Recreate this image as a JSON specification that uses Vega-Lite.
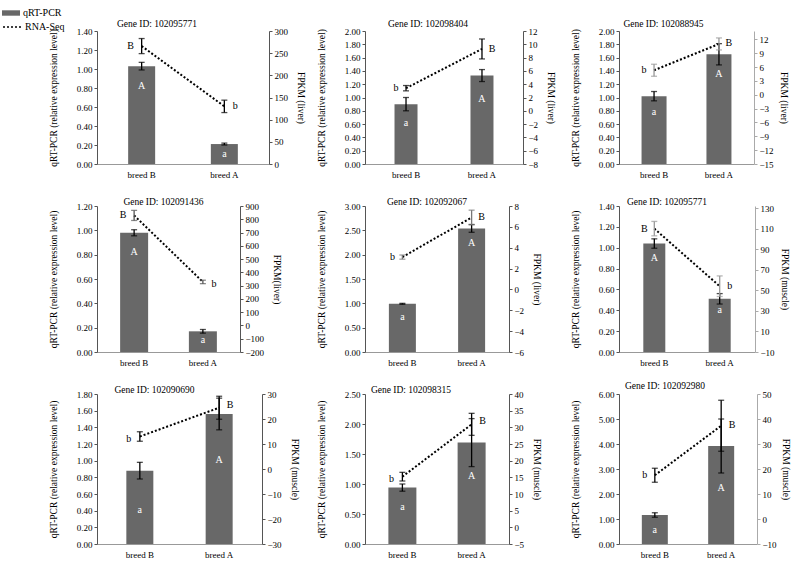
{
  "$schema": "https://vega.github.io/schema/vega-lite/v6.json",
  "padding": {"left": 2, "top": 4, "right": 0, "bottom": 0},
  "datasets": {
    "d": [
      {"panel": 1, "breed": "breed B", "qpcr": 1.03, "qpcr_err": 0.04, "fpkm": 266, "fpkm_err": 17, "pcr_letter": "A", "seq_letter": "B"},
      {"panel": 1, "breed": "breed A", "qpcr": 0.21, "qpcr_err": 0.01, "fpkm": 130, "fpkm_err": 14, "pcr_letter": "a", "seq_letter": "b"},
      {"panel": 2, "breed": "breed B", "qpcr": 0.90, "qpcr_err": 0.10, "fpkm": 3.4, "fpkm_err": 0.4, "pcr_letter": "a", "seq_letter": "b"},
      {"panel": 2, "breed": "breed A", "qpcr": 1.33, "qpcr_err": 0.09, "fpkm": 9.3, "fpkm_err": 1.5, "pcr_letter": "A", "seq_letter": "B"},
      {"panel": 3, "breed": "breed B", "qpcr": 1.02, "qpcr_err": 0.07, "fpkm": 5.3, "fpkm_err": 1.3, "pcr_letter": "a", "seq_letter": "b"},
      {"panel": 3, "breed": "breed A", "qpcr": 1.65, "qpcr_err": 0.16, "fpkm": 11.0, "fpkm_err": 1.3, "pcr_letter": "A", "seq_letter": "B"},
      {"panel": 4, "breed": "breed B", "qpcr": 0.98, "qpcr_err": 0.025, "fpkm": 829, "fpkm_err": 38, "pcr_letter": "A", "seq_letter": "B"},
      {"panel": 4, "breed": "breed A", "qpcr": 0.17, "qpcr_err": 0.015, "fpkm": 328, "fpkm_err": 13, "pcr_letter": "a", "seq_letter": "b"},
      {"panel": 5, "breed": "breed B", "qpcr": 0.99, "qpcr_err": 0.01, "fpkm": 3.1, "fpkm_err": 0.2, "pcr_letter": "a", "seq_letter": "b"},
      {"panel": 5, "breed": "breed A", "qpcr": 2.54, "qpcr_err": 0.08, "fpkm": 6.9, "fpkm_err": 0.7, "pcr_letter": "A", "seq_letter": "B"},
      {"panel": 6, "breed": "breed B", "qpcr": 1.04, "qpcr_err": 0.045, "fpkm": 110, "fpkm_err": 7, "pcr_letter": "A", "seq_letter": "B"},
      {"panel": 6, "breed": "breed A", "qpcr": 0.51, "qpcr_err": 0.05, "fpkm": 54, "fpkm_err": 10, "pcr_letter": "a", "seq_letter": "b"},
      {"panel": 7, "breed": "breed B", "qpcr": 0.88, "qpcr_err": 0.10, "fpkm": 13.0, "fpkm_err": 1.9, "pcr_letter": "a", "seq_letter": "b"},
      {"panel": 7, "breed": "breed A", "qpcr": 1.56, "qpcr_err": 0.19, "fpkm": 24.5, "fpkm_err": 4.6, "pcr_letter": "A", "seq_letter": "B"},
      {"panel": 8, "breed": "breed B", "qpcr": 0.94, "qpcr_err": 0.06, "fpkm": 15.2, "fpkm_err": 1.3, "pcr_letter": "a", "seq_letter": "b"},
      {"panel": 8, "breed": "breed A", "qpcr": 1.69, "qpcr_err": 0.40, "fpkm": 30.9, "fpkm_err": 3.3, "pcr_letter": "A", "seq_letter": "B"},
      {"panel": 9, "breed": "breed B", "qpcr": 1.16, "qpcr_err": 0.09, "fpkm": 17.5, "fpkm_err": 2.8, "pcr_letter": "a", "seq_letter": "b"},
      {"panel": 9, "breed": "breed A", "qpcr": 3.92, "qpcr_err": 1.08, "fpkm": 37.3, "fpkm_err": 10.2, "pcr_letter": "A", "seq_letter": "B"}
    ]
  },
  "columns": 3,
  "bounds": "flush",
  "spacing": {"row": 42, "column": 96},
  "concat": [
    {
      "width": 172, "height": 133,
      "data": {"name": "d"},
      "transform": [{"filter": "datum.panel == 1"}],
      "title": {"text": "Gene ID: 102095771", "dx": -26, "dy": 4},
      "encoding": {"x": {"field": "breed", "type": "nominal", "sort": ["breed B", "breed A"], "scale": {"paddingInner": 0, "paddingOuter": 0.04}, "axis": {"title": null}}},
      "layer": [
        {
          "encoding": {"y": {"field": "qpcr", "type": "quantitative", "title": "qRT-PCR (relative expression level)", "scale": {"domain": [0, 1.4]}, "axis": {"values": [0, 0.2, 0.4, 0.6, 0.8, 1, 1.2, 1.4], "format": ".2f"}}},
          "layer": [
            {"mark": {"type": "bar", "width": 27}, "encoding": {"color": {"datum": "qRT-PCR", "scale": {"range": ["#686868"]}, "legend": {"title": null, "orient": "none", "legendX": -95, "legendY": -27, "symbolType": "M-1,-0.3H1V0.3H-1Z", "symbolSize": 324, "symbolStrokeWidth": 0, "labelFontSize": 10, "labelOffset": 3, "labelColor": "black"}}}},
            {"mark": {"type": "errorbar", "ticks": true, "size": 6, "thickness": 1.3, "color": "black"}, "encoding": {"yError": {"field": "qpcr_err"}}},
            {"transform": [{"filter": "datum.breed == 'breed B'"}], "mark": {"type": "text", "color": "white", "fontSize": 10, "dy": 20}, "encoding": {"text": {"field": "pcr_letter"}}},
            {"transform": [{"filter": "datum.breed == 'breed A'"}], "mark": {"type": "text", "color": "white", "fontSize": 10, "dy": 10}, "encoding": {"text": {"field": "pcr_letter"}}}
          ]
        },
        {
          "encoding": {"y": {"field": "fpkm", "type": "quantitative", "title": "FPKM (liver)", "scale": {"domain": [0, 300]}, "axis": {"orient": "right", "values": [0, 50, 100, 150, 200, 250, 300], "format": "d"}}},
          "layer": [
            {"mark": {"type": "line", "color": "black", "strokeWidth": 2}, "encoding": {"strokeDash": {"datum": "RNA-Seq", "scale": {"range": [[2, 2]]}, "legend": {"title": null, "orient": "none", "legendX": -95, "legendY": -14, "symbolType": "stroke", "symbolSize": 324, "symbolStrokeColor": "black", "symbolStrokeWidth": 1.3, "labelFontSize": 10, "labelOffset": 3, "labelColor": "black"}}}},
            {"mark": {"type": "errorbar", "ticks": true, "size": 6, "thickness": 1.3, "color": "black"}, "encoding": {"yError": {"field": "fpkm_err"}}},
            {"transform": [{"filter": "datum.breed == 'breed B'"}], "mark": {"type": "text", "color": "black", "fontSize": 10, "dx": -11}, "encoding": {"text": {"field": "seq_letter"}}},
            {"transform": [{"filter": "datum.breed == 'breed A'"}], "mark": {"type": "text", "color": "black", "fontSize": 10, "dx": 11}, "encoding": {"text": {"field": "seq_letter"}}}
          ]
        }
      ],
      "resolve": {"scale": {"y": "independent"}}
    },
    {
      "width": 158, "height": 133,
      "data": {"name": "d"},
      "transform": [{"filter": "datum.panel == 2"}],
      "title": {"text": "Gene ID: 102098404", "dx": -16, "dy": 4},
      "encoding": {"x": {"field": "breed", "type": "nominal", "sort": ["breed B", "breed A"], "scale": {"paddingInner": 0, "paddingOuter": 0.04}, "axis": {"title": null}}},
      "layer": [
        {
          "encoding": {"y": {"field": "qpcr", "type": "quantitative", "title": "qRT-PCR (relative expression level)", "scale": {"domain": [0, 2]}, "axis": {"values": [0, 0.2, 0.4, 0.6, 0.8, 1, 1.2, 1.4, 1.6, 1.8, 2], "format": ".2f"}}},
          "layer": [
            {"mark": {"type": "bar", "width": 23, "color": "#686868"}},
            {"mark": {"type": "errorbar", "ticks": true, "size": 6, "thickness": 1.3, "color": "black"}, "encoding": {"yError": {"field": "qpcr_err"}}},
            {"transform": [{"filter": "datum.breed == 'breed B'"}], "mark": {"type": "text", "color": "white", "fontSize": 10, "dy": 19}, "encoding": {"text": {"field": "pcr_letter"}}},
            {"transform": [{"filter": "datum.breed == 'breed A'"}], "mark": {"type": "text", "color": "white", "fontSize": 10, "dy": 23}, "encoding": {"text": {"field": "pcr_letter"}}}
          ]
        },
        {
          "encoding": {"y": {"field": "fpkm", "type": "quantitative", "title": "FPKM (liver)", "scale": {"domain": [-8, 12]}, "axis": {"orient": "right", "values": [-8, -6, -4, -2, 0, 2, 4, 6, 8, 10, 12], "format": "d"}}},
          "layer": [
            {"mark": {"type": "line", "color": "black", "strokeWidth": 2, "strokeDash": [2, 2]}},
            {"mark": {"type": "errorbar", "ticks": true, "size": 6, "thickness": 1.3, "color": "black"}, "encoding": {"yError": {"field": "fpkm_err"}}},
            {"transform": [{"filter": "datum.breed == 'breed B'"}], "mark": {"type": "text", "color": "black", "fontSize": 10, "dx": -10}, "encoding": {"text": {"field": "seq_letter"}}},
            {"transform": [{"filter": "datum.breed == 'breed A'"}], "mark": {"type": "text", "color": "black", "fontSize": 10, "dx": 10}, "encoding": {"text": {"field": "seq_letter"}}}
          ]
        }
      ],
      "resolve": {"scale": {"y": "independent"}}
    },
    {
      "width": 135, "height": 133,
      "data": {"name": "d"},
      "transform": [{"filter": "datum.panel == 3"}],
      "title": {"text": "Gene ID: 102088945", "dx": -23, "dy": 4},
      "encoding": {"x": {"field": "breed", "type": "nominal", "sort": ["breed B", "breed A"], "scale": {"paddingInner": 0, "paddingOuter": 0.04}, "axis": {"title": null}}},
      "layer": [
        {
          "encoding": {"y": {"field": "qpcr", "type": "quantitative", "title": "qRT-PCR (relative expression level)", "scale": {"domain": [0, 2]}, "axis": {"values": [0, 0.2, 0.4, 0.6, 0.8, 1, 1.2, 1.4, 1.6, 1.8, 2], "format": ".2f"}}},
          "layer": [
            {"mark": {"type": "bar", "width": 25, "color": "#686868"}},
            {"mark": {"type": "errorbar", "ticks": true, "size": 6, "thickness": 1.3, "color": "black"}, "encoding": {"yError": {"field": "qpcr_err"}}},
            {"transform": [{"filter": "datum.breed == 'breed B'"}], "mark": {"type": "text", "color": "white", "fontSize": 10, "dy": 16}, "encoding": {"text": {"field": "pcr_letter"}}},
            {"transform": [{"filter": "datum.breed == 'breed A'"}], "mark": {"type": "text", "color": "white", "fontSize": 10, "dy": 20}, "encoding": {"text": {"field": "pcr_letter"}}}
          ]
        },
        {
          "encoding": {"y": {"field": "fpkm", "type": "quantitative", "title": "FPKM (liver)", "scale": {"domain": [-15, 13.8]}, "axis": {"orient": "right", "values": [-15, -12, -9, -6, -3, 0, 3, 6, 9, 12], "format": "d", "domainColor": "#aaaaaa", "tickColor": "#aaaaaa", "titlePadding": 5}}},
          "layer": [
            {"mark": {"type": "line", "color": "black", "strokeWidth": 2, "strokeDash": [2, 2]}},
            {"mark": {"type": "errorbar", "ticks": true, "size": 6, "thickness": 1.3, "color": "#999999"}, "encoding": {"yError": {"field": "fpkm_err"}}},
            {"transform": [{"filter": "datum.breed == 'breed B'"}], "mark": {"type": "text", "color": "black", "fontSize": 10, "dx": -10}, "encoding": {"text": {"field": "seq_letter"}}},
            {"transform": [{"filter": "datum.breed == 'breed A'"}], "mark": {"type": "text", "color": "black", "fontSize": 10, "dx": 10, "dy": -1}, "encoding": {"text": {"field": "seq_letter"}}}
          ]
        }
      ],
      "resolve": {"scale": {"y": "independent"}}
    },
    {
      "width": 143, "height": 146,
      "data": {"name": "d"},
      "transform": [{"filter": "datum.panel == 4"}],
      "title": {"text": "Gene ID: 102091436", "dx": -5, "dy": 7},
      "encoding": {"x": {"field": "breed", "type": "nominal", "sort": ["breed B", "breed A"], "scale": {"paddingInner": 0, "paddingOuter": 0.04}, "axis": {"title": null}}},
      "layer": [
        {
          "encoding": {"y": {"field": "qpcr", "type": "quantitative", "title": "qRT-PCR (relative expression level)", "scale": {"domain": [0, 1.2]}, "axis": {"values": [0, 0.2, 0.4, 0.6, 0.8, 1, 1.2], "format": ".2f"}}},
          "layer": [
            {"mark": {"type": "bar", "width": 28, "color": "#686868"}},
            {"mark": {"type": "errorbar", "ticks": true, "size": 6, "thickness": 1.3, "color": "black"}, "encoding": {"yError": {"field": "qpcr_err"}}},
            {"transform": [{"filter": "datum.breed == 'breed B'"}], "mark": {"type": "text", "color": "white", "fontSize": 10, "dy": 19}, "encoding": {"text": {"field": "pcr_letter"}}},
            {"transform": [{"filter": "datum.breed == 'breed A'"}], "mark": {"type": "text", "color": "white", "fontSize": 10, "dy": 9}, "encoding": {"text": {"field": "pcr_letter"}}}
          ]
        },
        {
          "encoding": {"y": {"field": "fpkm", "type": "quantitative", "title": "FPKM(liver)", "scale": {"domain": [-200, 900]}, "axis": {"orient": "right", "values": [-200, -100, 0, 100, 200, 300, 400, 500, 600, 700, 800, 900], "format": "d"}}},
          "layer": [
            {"mark": {"type": "line", "color": "black", "strokeWidth": 2, "strokeDash": [2, 2]}},
            {"mark": {"type": "errorbar", "ticks": true, "size": 6, "thickness": 1.3, "color": "#555555"}, "encoding": {"yError": {"field": "fpkm_err"}}},
            {"transform": [{"filter": "datum.breed == 'breed B'"}], "mark": {"type": "text", "color": "black", "fontSize": 10, "dx": -11}, "encoding": {"text": {"field": "seq_letter"}}},
            {"transform": [{"filter": "datum.breed == 'breed A'"}], "mark": {"type": "text", "color": "black", "fontSize": 10, "dx": 11, "dy": 2}, "encoding": {"text": {"field": "seq_letter"}}}
          ]
        }
      ],
      "resolve": {"scale": {"y": "independent"}}
    },
    {
      "width": 144, "height": 146,
      "data": {"name": "d"},
      "transform": [{"filter": "datum.panel == 5"}],
      "title": {"text": "Gene ID: 102092067", "dx": -10, "dy": 7},
      "encoding": {"x": {"field": "breed", "type": "nominal", "sort": ["breed B", "breed A"], "scale": {"paddingInner": 0, "paddingOuter": 0.04}, "axis": {"title": null}}},
      "layer": [
        {
          "encoding": {"y": {"field": "qpcr", "type": "quantitative", "title": "qRT-PCR (relative expression level)", "scale": {"domain": [0, 3]}, "axis": {"values": [0, 0.5, 1, 1.5, 2, 2.5, 3], "format": ".2f"}}},
          "layer": [
            {"mark": {"type": "bar", "width": 27, "color": "#686868"}},
            {"mark": {"type": "errorbar", "ticks": true, "size": 6, "thickness": 1.3, "color": "black"}, "encoding": {"yError": {"field": "qpcr_err"}}},
            {"transform": [{"filter": "datum.breed == 'breed B'"}], "mark": {"type": "text", "color": "white", "fontSize": 10, "dy": 13}, "encoding": {"text": {"field": "pcr_letter"}}},
            {"transform": [{"filter": "datum.breed == 'breed A'"}], "mark": {"type": "text", "color": "white", "fontSize": 10, "dy": 15}, "encoding": {"text": {"field": "pcr_letter"}}}
          ]
        },
        {
          "encoding": {"y": {"field": "fpkm", "type": "quantitative", "title": "FPKM (liver)", "scale": {"domain": [-6, 8]}, "axis": {"orient": "right", "values": [-6, -4, -2, 0, 2, 4, 6, 8], "format": "d"}}},
          "layer": [
            {"mark": {"type": "line", "color": "black", "strokeWidth": 2, "strokeDash": [2, 2]}},
            {"mark": {"type": "errorbar", "ticks": true, "size": 6, "thickness": 1.3, "color": "#777777"}, "encoding": {"yError": {"field": "fpkm_err"}}},
            {"transform": [{"filter": "datum.breed == 'breed B'"}], "mark": {"type": "text", "color": "black", "fontSize": 10, "dx": -10}, "encoding": {"text": {"field": "seq_letter"}}},
            {"transform": [{"filter": "datum.breed == 'breed A'"}], "mark": {"type": "text", "color": "black", "fontSize": 10, "dx": 10}, "encoding": {"text": {"field": "seq_letter"}}}
          ]
        }
      ],
      "resolve": {"scale": {"y": "independent"}}
    },
    {
      "width": 136, "height": 146,
      "data": {"name": "d"},
      "transform": [{"filter": "datum.panel == 6"}],
      "title": {"text": "Gene ID: 102095771", "dx": -20, "dy": 7},
      "encoding": {"x": {"field": "breed", "type": "nominal", "sort": ["breed B", "breed A"], "scale": {"paddingInner": 0, "paddingOuter": 0.04}, "axis": {"title": null}}},
      "layer": [
        {
          "encoding": {"y": {"field": "qpcr", "type": "quantitative", "title": "qRT-PCR (relative expression level)", "scale": {"domain": [0, 1.4]}, "axis": {"values": [0, 0.2, 0.4, 0.6, 0.8, 1, 1.2, 1.4], "format": ".2f"}}},
          "layer": [
            {"mark": {"type": "bar", "width": 22, "color": "#686868"}},
            {"mark": {"type": "errorbar", "ticks": true, "size": 6, "thickness": 1.3, "color": "black"}, "encoding": {"yError": {"field": "qpcr_err"}}},
            {"transform": [{"filter": "datum.breed == 'breed B'"}], "mark": {"type": "text", "color": "white", "fontSize": 10, "dy": 14}, "encoding": {"text": {"field": "pcr_letter"}}},
            {"transform": [{"filter": "datum.breed == 'breed A'"}], "mark": {"type": "text", "color": "white", "fontSize": 10, "dy": 11}, "encoding": {"text": {"field": "pcr_letter"}}}
          ]
        },
        {
          "encoding": {"y": {"field": "fpkm", "type": "quantitative", "title": "FPKM (muscle)", "scale": {"domain": [-10, 132]}, "axis": {"orient": "right", "values": [-10, 10, 30, 50, 70, 90, 110, 130], "format": "d", "domainColor": "#aaaaaa", "tickColor": "#aaaaaa", "titlePadding": 5}}},
          "layer": [
            {"mark": {"type": "line", "color": "black", "strokeWidth": 2, "strokeDash": [2, 2]}},
            {"mark": {"type": "errorbar", "ticks": true, "size": 6, "thickness": 1.3, "color": "#999999"}, "encoding": {"yError": {"field": "fpkm_err"}}},
            {"transform": [{"filter": "datum.breed == 'breed B'"}], "mark": {"type": "text", "color": "black", "fontSize": 10, "dx": -10}, "encoding": {"text": {"field": "seq_letter"}}},
            {"transform": [{"filter": "datum.breed == 'breed A'"}], "mark": {"type": "text", "color": "black", "fontSize": 10, "dx": 10}, "encoding": {"text": {"field": "seq_letter"}}}
          ]
        }
      ],
      "resolve": {"scale": {"y": "independent"}}
    },
    {
      "width": 165, "height": 150,
      "data": {"name": "d"},
      "transform": [{"filter": "datum.panel == 7"}],
      "title": {"text": "Gene ID: 102090690", "dx": -25, "dy": 7},
      "encoding": {"x": {"field": "breed", "type": "nominal", "sort": ["breed B", "breed A"], "scale": {"paddingInner": 0, "paddingOuter": 0.04}, "axis": {"title": null}}},
      "layer": [
        {
          "encoding": {"y": {"field": "qpcr", "type": "quantitative", "title": "qRT-PCR (relative expression level)", "scale": {"domain": [0, 1.8]}, "axis": {"values": [0, 0.2, 0.4, 0.6, 0.8, 1, 1.2, 1.4, 1.6, 1.8], "format": ".2f"}}},
          "layer": [
            {"mark": {"type": "bar", "width": 27, "color": "#686868"}},
            {"mark": {"type": "errorbar", "ticks": true, "size": 6, "thickness": 1.3, "color": "black"}, "encoding": {"yError": {"field": "qpcr_err"}}},
            {"transform": [{"filter": "datum.breed == 'breed B'"}], "mark": {"type": "text", "color": "white", "fontSize": 10, "dy": 39}, "encoding": {"text": {"field": "pcr_letter"}}},
            {"transform": [{"filter": "datum.breed == 'breed A'"}], "mark": {"type": "text", "color": "white", "fontSize": 10, "dy": 46}, "encoding": {"text": {"field": "pcr_letter"}}}
          ]
        },
        {
          "encoding": {"y": {"field": "fpkm", "type": "quantitative", "title": "FPKM (muscle)", "scale": {"domain": [-30, 30]}, "axis": {"orient": "right", "values": [-30, -20, -10, 0, 10, 20, 30], "format": "d"}}},
          "layer": [
            {"mark": {"type": "line", "color": "black", "strokeWidth": 2, "strokeDash": [2, 2]}},
            {"mark": {"type": "errorbar", "ticks": true, "size": 6, "thickness": 1.3, "color": "black"}, "encoding": {"yError": {"field": "fpkm_err"}}},
            {"transform": [{"filter": "datum.breed == 'breed B'"}], "mark": {"type": "text", "color": "black", "fontSize": 10, "dx": -11, "dy": 2}, "encoding": {"text": {"field": "seq_letter"}}},
            {"transform": [{"filter": "datum.breed == 'breed A'"}], "mark": {"type": "text", "color": "black", "fontSize": 10, "dx": 11, "dy": -3}, "encoding": {"text": {"field": "seq_letter"}}}
          ]
        }
      ],
      "resolve": {"scale": {"y": "independent"}}
    },
    {
      "width": 144, "height": 150,
      "data": {"name": "d"},
      "transform": [{"filter": "datum.panel == 8"}],
      "title": {"text": "Gene ID: 102098315", "dx": -26, "dy": 7},
      "encoding": {"x": {"field": "breed", "type": "nominal", "sort": ["breed B", "breed A"], "scale": {"paddingInner": 0, "paddingOuter": 0.04}, "axis": {"title": null}}},
      "layer": [
        {
          "encoding": {"y": {"field": "qpcr", "type": "quantitative", "title": "qRT-PCR (relative expression level)", "scale": {"domain": [0, 2.5]}, "axis": {"values": [0, 0.5, 1, 1.5, 2, 2.5], "format": ".2f"}}},
          "layer": [
            {"mark": {"type": "bar", "width": 28, "color": "#686868"}},
            {"mark": {"type": "errorbar", "ticks": true, "size": 6, "thickness": 1.3, "color": "black"}, "encoding": {"yError": {"field": "qpcr_err"}}},
            {"transform": [{"filter": "datum.breed == 'breed B'"}], "mark": {"type": "text", "color": "white", "fontSize": 10, "dy": 19}, "encoding": {"text": {"field": "pcr_letter"}}},
            {"transform": [{"filter": "datum.breed == 'breed A'"}], "mark": {"type": "text", "color": "white", "fontSize": 10, "dy": 33}, "encoding": {"text": {"field": "pcr_letter"}}}
          ]
        },
        {
          "encoding": {"y": {"field": "fpkm", "type": "quantitative", "title": "FPKM (muscle)", "scale": {"domain": [-5, 40]}, "axis": {"orient": "right", "values": [-5, 0, 5, 10, 15, 20, 25, 30, 35, 40], "format": "d"}}},
          "layer": [
            {"mark": {"type": "line", "color": "black", "strokeWidth": 2, "strokeDash": [2, 2]}},
            {"mark": {"type": "errorbar", "ticks": true, "size": 6, "thickness": 1.3, "color": "black"}, "encoding": {"yError": {"field": "fpkm_err"}}},
            {"transform": [{"filter": "datum.breed == 'breed B'"}], "mark": {"type": "text", "color": "black", "fontSize": 10, "dx": -11, "dy": 2}, "encoding": {"text": {"field": "seq_letter"}}},
            {"transform": [{"filter": "datum.breed == 'breed A'"}], "mark": {"type": "text", "color": "black", "fontSize": 10, "dx": 11, "dy": -3}, "encoding": {"text": {"field": "seq_letter"}}}
          ]
        }
      ],
      "resolve": {"scale": {"y": "independent"}}
    },
    {
      "width": 138, "height": 150,
      "data": {"name": "d"},
      "transform": [{"filter": "datum.panel == 9"}],
      "title": {"text": "Gene ID: 102092980", "dx": -23, "dy": 3},
      "encoding": {"x": {"field": "breed", "type": "nominal", "sort": ["breed B", "breed A"], "scale": {"paddingInner": 0, "paddingOuter": 0.04}, "axis": {"title": null}}},
      "layer": [
        {
          "encoding": {"y": {"field": "qpcr", "type": "quantitative", "title": "qRT-PCR (relative expression level)", "scale": {"domain": [0, 6]}, "axis": {"values": [0, 1, 2, 3, 4, 5, 6], "format": ".2f"}}},
          "layer": [
            {"mark": {"type": "bar", "width": 26, "color": "#686868"}},
            {"mark": {"type": "errorbar", "ticks": true, "size": 6, "thickness": 1.3, "color": "black"}, "encoding": {"yError": {"field": "qpcr_err"}}},
            {"transform": [{"filter": "datum.breed == 'breed B'"}], "mark": {"type": "text", "color": "white", "fontSize": 10, "dy": 15}, "encoding": {"text": {"field": "pcr_letter"}}},
            {"transform": [{"filter": "datum.breed == 'breed A'"}], "mark": {"type": "text", "color": "white", "fontSize": 10, "dy": 42}, "encoding": {"text": {"field": "pcr_letter"}}}
          ]
        },
        {
          "encoding": {"y": {"field": "fpkm", "type": "quantitative", "title": "FPKM (muscle)", "scale": {"domain": [-10, 50]}, "axis": {"orient": "right", "values": [-10, 0, 10, 20, 30, 40, 50], "format": "d", "domainColor": "#aaaaaa", "tickColor": "#aaaaaa", "titlePadding": 4}}},
          "layer": [
            {"mark": {"type": "line", "color": "black", "strokeWidth": 2, "strokeDash": [2, 2]}},
            {"mark": {"type": "errorbar", "ticks": true, "size": 6, "thickness": 1.3, "color": "black"}, "encoding": {"yError": {"field": "fpkm_err"}}},
            {"transform": [{"filter": "datum.breed == 'breed B'"}], "mark": {"type": "text", "color": "black", "fontSize": 10, "dx": -10}, "encoding": {"text": {"field": "seq_letter"}}},
            {"transform": [{"filter": "datum.breed == 'breed A'"}], "mark": {"type": "text", "color": "black", "fontSize": 10, "dx": 11, "dy": -1}, "encoding": {"text": {"field": "seq_letter"}}}
          ]
        }
      ],
      "resolve": {"scale": {"y": "independent"}}
    }
  ],
  "config": {
    "font": "Liberation Serif",
    "view": {"stroke": null},
    "axis": {"labelFont": "Liberation Serif", "labelFontSize": 9, "labelColor": "black", "titleFont": "Liberation Serif", "titleFontSize": 9.5, "titleFontWeight": "normal", "titleColor": "black", "domainColor": "#555555", "tickColor": "#555555", "tickSize": 3, "grid": false, "labelPadding": 2, "titlePadding": 18},
    "axisRight": {"titlePadding": 8},
    "axisX": {"ticks": false, "labelPadding": 6, "labelAngle": 0, "domainColor": "#999999"},
    "title": {"font": "Liberation Serif", "fontSize": 9.5, "fontWeight": "normal", "color": "black", "offset": 3},
    "legend": {"labelFont": "Liberation Serif"}
  }
}
